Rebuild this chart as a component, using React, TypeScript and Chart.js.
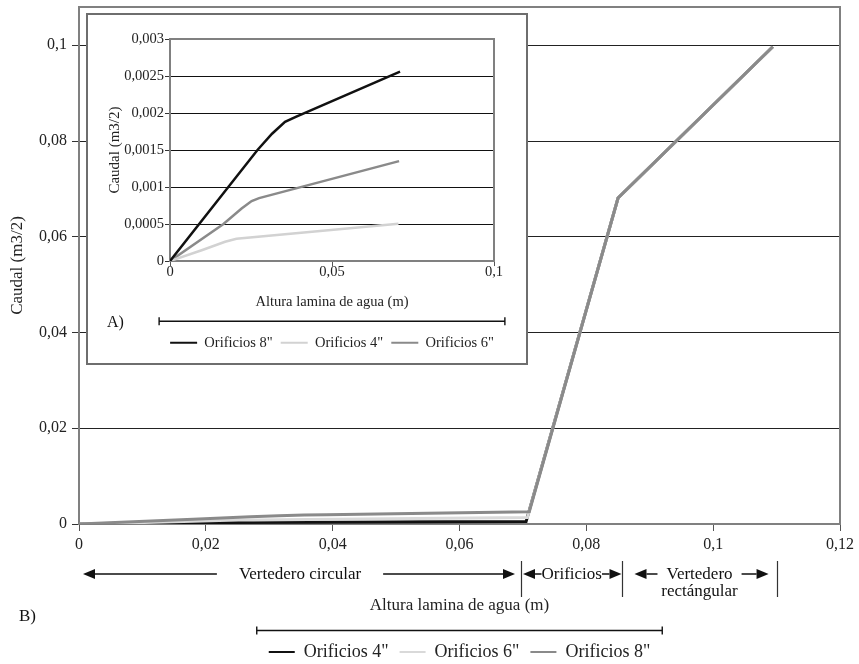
import React, { useEffect, useRef } from 'react';
import { Chart, registerables } from 'chart.js';

Chart.register(...registerables);

const FONT = "'Liberation Serif', 'DejaVu Serif', serif";

// Orificios 4"
const x4 = [0, 0.01, 0.017, 0.0205, 0.0705];
const q4 = [0, 0.00015, 0.00026, 0.0003, 0.000505];
// Orificios 6"
const x6 = [0, 0.0165, 0.0221, 0.0252, 0.0275, 0.0707];
const q6 = [0, 0.0005, 0.00071, 0.00081, 0.00085, 0.00135];
// Orificios 8"
const x8 = [0, 0.018, 0.027, 0.0315, 0.0355, 0.039, 0.071];
const q8 = [0, 0.001, 0.0015, 0.00172, 0.00188, 0.00195, 0.00256];
// common high part (orificios + vertedero rectangular)
const xHigh = [0.085, 0.1094];
const qHigh = [0.0681, 0.0997];

const mainXTicks = [0, 0.02, 0.04, 0.06, 0.08, 0.1, 0.12];
const mainYTicks = [0, 0.02, 0.04, 0.06, 0.08, 0.1];
const insetXTicks = [0, 0.05, 0.1];
const insetYTicks = [0, 0.0005, 0.001, 0.0015, 0.002, 0.0025, 0.003];

const zoneEdges = [0, 0.0697, 0.0857, 0.11];
const zoneLabels = [['Vertedero circular'], ['Orificios'], ['Vertedero', 'rectángular']];

const label4 = 'Orificios 4"';
const label6 = 'Orificios 6"';
const label8 = 'Orificios 8"';

const BLACK = '#111111';
const LIGHT = '#d9d9d9';
const GRAY = '#8a8a8a';
const AXIS = '#808080';

const pts = (xs: number[], ys: number[]) => xs.map((x, i) => ({ x, y: ys[i] }));
const fmt = (v: any) => String(parseFloat(Number(v).toFixed(6))).replace('.', ',');

function arrowHead(ctx: any, tip: number, y: number, dir: number) {
  const L = 12, h = 5;
  ctx.beginPath();
  ctx.moveTo(tip, y);
  ctx.lineTo(tip - dir * L, y - h);
  ctx.lineTo(tip - dir * L, y + h);
  ctx.closePath();
  ctx.fill();
}

function legendExtent(chart: any, fs: number, boxW: number, pad: number) {
  const lg = chart.legend;
  const ctx = chart.ctx;
  ctx.save();
  ctx.font = `${fs}px ${FONT}`;
  const widths = lg.legendItems.map((it: any) => boxW + fs / 2 + ctx.measureText(it.text).width);
  ctx.restore();
  const lineW = widths.reduce((a: number, w: number) => a + w + pad, 0);
  const start = (lg.left + pad + lg.right - lineW) / 2;
  return { start, end: start + lineW - pad, textY: lg.top + pad + fs / 2 };
}

function centerLegend(chart: any) {
  const lg = chart.legend;
  const a = chart.chartArea;
  const dx = (a.left + a.right) / 2 - (lg.left + lg.right) / 2;
  lg.left += dx;
  lg.right += dx;
}

function frame(chart: any, color: string, width: number) {
  const { ctx, chartArea: a } = chart;
  ctx.save();
  ctx.strokeStyle = color;
  ctx.lineWidth = width;
  ctx.beginPath();
  ctx.moveTo(a.left, a.top);
  ctx.lineTo(a.right, a.top);
  ctx.lineTo(a.right, a.bottom);
  ctx.stroke();
  ctx.restore();
}

function bracket(ctx: any, x0: number, x1: number, y: number) {
  ctx.save();
  ctx.strokeStyle = '#111';
  ctx.lineWidth = 1.4;
  ctx.beginPath();
  ctx.moveTo(x0, y);
  ctx.lineTo(x1, y);
  ctx.moveTo(x0, y - 4);
  ctx.lineTo(x0, y + 4);
  ctx.moveTo(x1, y - 4);
  ctx.lineTo(x1, y + 4);
  ctx.stroke();
  ctx.restore();
}

const MAIN_LEG_FS = 18, MAIN_LEG_BOX = 26, MAIN_LEG_PAD = 11;
const INSET_LEG_FS = 14.5, INSET_LEG_BOX = 27, INSET_LEG_PAD = 8;

const mainDecor = {
  id: 'mainDecor',
  afterLayout(chart: any) {
    centerLegend(chart);
  },
  beforeDatasetsDraw(chart: any) {
    frame(chart, AXIS, 2);
  },
  afterDraw(chart: any) {
    const ctx = chart.ctx;
    const xs = chart.scales.x;
    ctx.save();
    ctx.font = `17px ${FONT}`;
    ctx.fillStyle = '#111';
    ctx.strokeStyle = '#111';
    const rowY = 574;
    const insets = [[4, 6], [2, 1], [12, 8]];
    const gaps = [22, 0, 9];
    zoneLabels.forEach((lines, i) => {
      const a = xs.getPixelForValue(zoneEdges[i]);
      const b = xs.getPixelForValue(zoneEdges[i + 1]);
      const mid = (a + b) / 2;
      const tw = ctx.measureText(lines[0]).width;
      ctx.textAlign = 'center';
      ctx.textBaseline = 'middle';
      lines.forEach((t, j) => ctx.fillText(t, mid, 575 + j * 17));
      const lt = a + insets[i][0];
      const rt = b - insets[i][1];
      arrowHead(ctx, lt, rowY, -1);
      arrowHead(ctx, rt, rowY, 1);
      ctx.lineWidth = 1.5;
      const s1 = lt + 12, e1 = mid - tw / 2 - gaps[i];
      const s2 = mid + tw / 2 + gaps[i], e2 = rt - 12;
      ctx.beginPath();
      if (e1 > s1) { ctx.moveTo(s1, rowY); ctx.lineTo(e1, rowY); }
      if (e2 > s2) { ctx.moveTo(s2, rowY); ctx.lineTo(e2, rowY); }
      ctx.stroke();
    });
    ctx.strokeStyle = '#333';
    ctx.lineWidth = 1.2;
    ctx.beginPath();
    for (let i = 1; i < zoneEdges.length; i++) {
      const x = Math.round(xs.getPixelForValue(zoneEdges[i])) + 0.5;
      ctx.moveTo(x, 561);
      ctx.lineTo(x, 597);
    }
    ctx.stroke();
    ctx.textAlign = 'left';
    ctx.textBaseline = 'middle';
    ctx.fillText('B)', 19, 617);
    ctx.restore();
    const ext = legendExtent(chart, MAIN_LEG_FS, MAIN_LEG_BOX, MAIN_LEG_PAD);
    bracket(ctx, ext.start - 12, ext.end + 12, ext.textY - 21.5);
  },
};

const insetDecor = {
  id: 'insetDecor',
  afterLayout(chart: any) {
    centerLegend(chart);
  },
  beforeDatasetsDraw(chart: any) {
    frame(chart, AXIS, 2);
  },
  afterDraw(chart: any) {
    const ctx = chart.ctx;
    const ext = legendExtent(chart, INSET_LEG_FS, INSET_LEG_BOX, INSET_LEG_PAD);
    bracket(ctx, ext.start - 11, ext.end + 11, ext.textY - 21.5);
    ctx.save();
    ctx.font = `16px ${FONT}`;
    ctx.fillStyle = '#111';
    ctx.textAlign = 'left';
    ctx.textBaseline = 'middle';
    ctx.fillText('A)', 19, 308);
    ctx.restore();
  },
};

const legendLabels = (fs: number, boxW: number, pad: number) => ({
  font: { family: FONT, size: fs },
  color: '#222',
  boxWidth: boxW,
  boxHeight: 2,
  padding: pad,
  sort: (a: any, b: any) => a.datasetIndex - b.datasetIndex,
  generateLabels: (chart: any) =>
    (Chart.defaults as any).plugins.legend.labels
      .generateLabels(chart)
      .map((l: any) => ({ ...l, lineWidth: 0, fillStyle: l.strokeStyle })),
});

export default function App() {
  const mainRef = useRef<HTMLCanvasElement | null>(null);
  const insetRef = useRef<HTMLCanvasElement | null>(null);

  useEffect(() => {
    const line = (label: string, data: any, color: string, width: number, order: number) => ({
      label,
      data,
      borderColor: color,
      backgroundColor: color,
      borderWidth: width,
      pointRadius: 0,
      tension: 0,
      fill: false,
      order,
    });

    const main = new Chart(mainRef.current as HTMLCanvasElement, {
      type: 'line',
      data: {
        datasets: [
          line(label4, pts([...x4, ...xHigh], [...q4, ...qHigh]), BLACK, 3, 3),
          line(label6, pts([...x6, ...xHigh], [...q6, ...qHigh]), LIGHT, 3, 2),
          line(label8, pts([...x8, ...xHigh], [...q8, ...qHigh]), GRAY, 3, 1),
        ],
      },
      options: {
        animation: false,
        responsive: true,
        maintainAspectRatio: false,
        events: [],
        layout: { padding: { left: 0, top: 7, right: 19, bottom: -7 } },
        plugins: {
          tooltip: { enabled: false },
          legend: {
            position: 'bottom',
            fullSize: true,
            labels: legendLabels(MAIN_LEG_FS, MAIN_LEG_BOX, MAIN_LEG_PAD),
          },
        },
        scales: {
          x: {
            type: 'linear',
            min: 0,
            max: 0.12,
            afterBuildTicks: (s: any) => { s.ticks = mainXTicks.map((v) => ({ value: v })); },
            afterFit: (s: any) => { s.height = 108; s.paddingLeft = 0; s.paddingRight = 0; },
            ticks: { font: { family: FONT, size: 16 }, color: '#222', padding: 4, maxRotation: 0, callback: fmt },
            grid: { drawOnChartArea: false, drawTicks: true, tickLength: 7, tickColor: '#555' },
            border: { color: AXIS, width: 2 },
            title: {
              display: true,
              text: 'Altura lamina de agua (m)',
              font: { family: FONT, size: 17 },
              color: '#222',
              padding: { top: 0, bottom: 16.2 },
            },
          },
          y: {
            type: 'linear',
            min: 0,
            max: 0.108,
            afterBuildTicks: (s: any) => { s.ticks = mainYTicks.map((v) => ({ value: v })); },
            afterFit: (s: any) => { s.width = 79; s.paddingTop = 0; s.paddingBottom = 0; },
            ticks: { font: { family: FONT, size: 16 }, color: '#222', padding: 5, callback: fmt },
            grid: { color: '#222', lineWidth: 1, drawTicks: true, tickLength: 7, tickColor: '#333' },
            border: { color: AXIS, width: 2 },
            title: {
              display: true,
              text: 'Caudal (m3/2)',
              font: { family: FONT, size: 17 },
              color: '#222',
              padding: { top: 7, bottom: 0 },
            },
          },
        },
      } as any,
      plugins: [mainDecor],
    });

    const inset = new Chart(insetRef.current as HTMLCanvasElement, {
      type: 'line',
      data: {
        datasets: [
          line(label8, pts(x8, q8), BLACK, 2.5, 1),
          line(label4, pts(x4, q4), '#d2d2d2', 2.5, 2),
          line(label6, pts(x6, q6), GRAY, 2.5, 3),
        ],
      },
      options: {
        animation: false,
        responsive: true,
        maintainAspectRatio: false,
        events: [],
        layout: { padding: { left: 0, top: 24, right: 32, bottom: 3 } },
        plugins: {
          tooltip: { enabled: false },
          legend: {
            position: 'bottom',
            fullSize: true,
            labels: legendLabels(INSET_LEG_FS, INSET_LEG_BOX, INSET_LEG_PAD),
          },
        },
        scales: {
          x: {
            type: 'linear',
            min: 0,
            max: 0.1,
            afterBuildTicks: (s: any) => { s.ticks = insetXTicks.map((v) => ({ value: v })); },
            afterFit: (s: any) => { s.height = 66.45; s.paddingLeft = 0; s.paddingRight = 0; },
            ticks: {
              font: { family: FONT, size: 14.5, lineHeight: 1 },
              color: '#222',
              padding: -1,
              maxRotation: 0,
              callback: fmt,
            },
            grid: { drawOnChartArea: false, drawTicks: true, tickLength: 5, tickColor: '#555' },
            border: { color: AXIS, width: 2 },
            title: {
              display: true,
              text: 'Altura lamina de agua (m)',
              font: { family: FONT, size: 14.5 },
              color: '#222',
              padding: { top: 0, bottom: 17 },
            },
          },
          y: {
            type: 'linear',
            min: 0,
            max: 0.003,
            afterBuildTicks: (s: any) => { s.ticks = insetYTicks.map((v) => ({ value: v })); },
            afterFit: (s: any) => { s.width = 82; s.paddingTop = 0; s.paddingBottom = 0; },
            ticks: { font: { family: FONT, size: 14.5 }, color: '#222', padding: 1, callback: fmt },
            grid: { color: '#111', lineWidth: 1, drawTicks: true, tickLength: 5, tickColor: '#333' },
            border: { color: AXIS, width: 2 },
            title: {
              display: true,
              text: 'Caudal (m3/2)',
              font: { family: FONT, size: 15 },
              color: '#222',
              padding: { top: 18, bottom: 0 },
            },
          },
        },
      } as any,
      plugins: [insetDecor],
    });

    return () => {
      main.destroy();
      inset.destroy();
    };
  }, []);

  return (
    <div>
      <div style={{ position: 'absolute', left: 0, top: 0, width: 859, height: 664, background: '#fff' }}>
        <canvas ref={mainRef} />
      </div>
      <div
        style={{
          position: 'absolute',
          left: 86,
          top: 13,
          width: 442,
          height: 352,
          border: '2px solid #6e6e6e',
          boxSizing: 'border-box',
          background: '#fff',
        }}
      >
        <div style={{ position: 'relative', width: 438, height: 348 }}>
          <canvas ref={insetRef} />
        </div>
      </div>
    </div>
  );
}
